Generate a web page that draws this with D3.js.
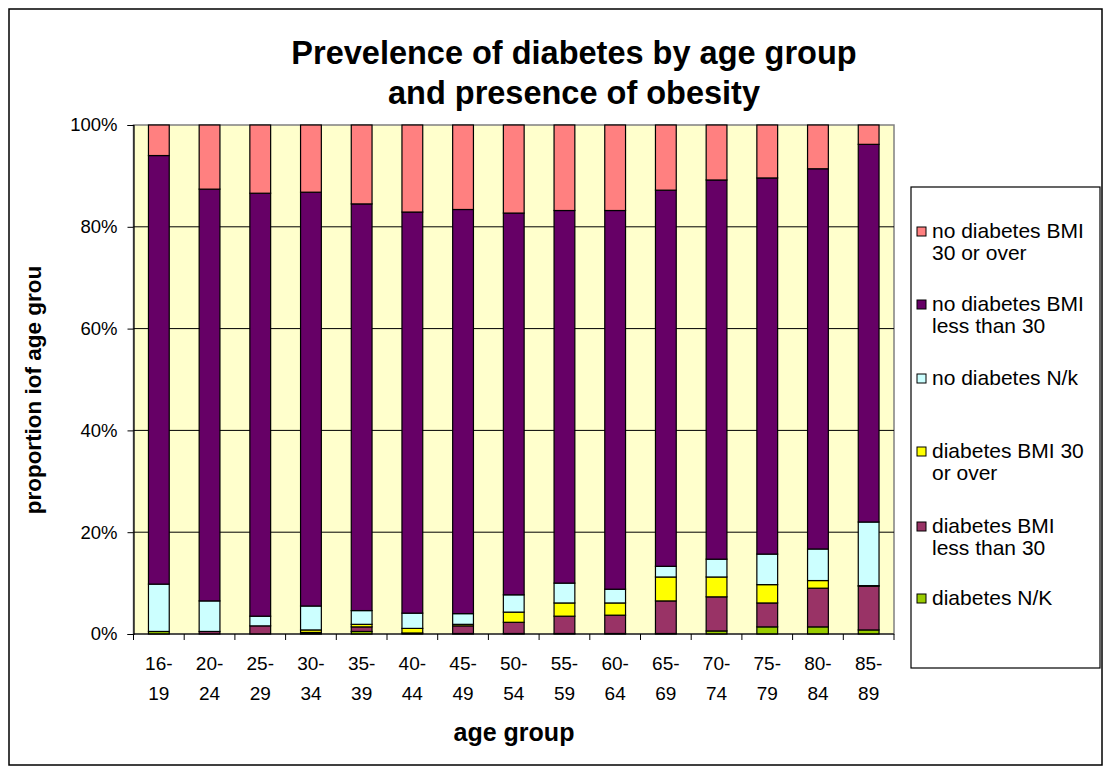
<!DOCTYPE html>
<html>
<head>
<meta charset="utf-8">
<script src="https://cdn.jsdelivr.net/npm/d3@7"></script>
<style>
  html, body { margin: 0; padding: 0; background: #fff; }
  svg { display: block; }
  text { font-family: Arial, "Liberation Sans", sans-serif; fill: #000; }
</style>
</head>
<body>
<svg id="chart" width="1106" height="770"></svg>
<script>
// Age groups (two-line tick labels)
const ageGroups = ["16-19","20-24","25-29","30-34","35-39","40-44","45-49","50-54",
                   "55-59","60-64","65-69","70-74","75-79","80-84","85-89"];

// Percent of each age group, stacked bottom to top
const diabetesNK        = [0.5, 0.0, 0.0, 0.1, 0.5, 0.0, 0.1, 0.1, 0.1, 0.1, 0.1, 0.6, 1.4, 1.4, 0.8];
const diabetesUnder30   = [0.0, 0.5, 1.6, 0.2, 0.9, 0.2, 1.5, 2.2, 3.4, 3.6, 6.4, 6.7, 4.7, 7.6, 8.6];
const diabetes30Plus    = [0.0, 0.0, 0.0, 0.5, 0.5, 0.9, 0.3, 2.0, 2.6, 2.4, 4.7, 3.9, 3.6, 1.5, 0.1];
const noDiabetesNK      = [9.3, 6.0, 1.9, 4.7, 2.7, 3.0, 2.1, 3.4, 3.9, 2.7, 2.1, 3.5, 6.0, 6.2, 12.5];
const noDiabetesUnder30 = [84.2, 80.9, 83.1, 81.3, 79.9, 78.8, 79.4, 75.0, 73.2, 74.4, 73.9, 74.5, 73.9, 74.7, 74.2];
const noDiabetes30Plus  = [6.0, 12.6, 13.4, 13.2, 15.5, 17.1, 16.6, 17.3, 16.8, 16.8, 12.8, 10.8, 10.4, 8.6, 3.8];

const seriesNames = ["diabetes N/K", "diabetes BMI less than 30", "diabetes BMI 30 or over",
                     "no diabetes N/k", "no diabetes BMI less than 30", "no diabetes BMI 30 or over"];
const seriesValues = [diabetesNK, diabetesUnder30, diabetes30Plus, noDiabetesNK, noDiabetesUnder30, noDiabetes30Plus];
const seriesColors = ["#99CC00", "#993366", "#FFFF00", "#CCFFFF", "#660066", "#FF8080"];
// Legend text, wrapped as in the legend box (top entry first)
const legendLines = [
  ["no diabetes BMI", "30 or over"],
  ["no diabetes BMI", "less than 30"],
  ["no diabetes N/k"],
  ["diabetes BMI 30", "or over"],
  ["diabetes BMI", "less than 30"],
  ["diabetes N/K"]
];
const yTicks = [0, 20, 40, 60, 80, 100];

const svg = d3.select("#chart");
const plot = { left: 133.5, right: 894, top: 125, bottom: 634 };

// Outer chart frame
svg.append("rect").attr("x", 9).attr("y", 9).attr("width", 1093).attr("height", 756)
  .attr("fill", "#fff").attr("stroke", "#000").attr("stroke-width", 1.5);

const x = d3.scaleBand().domain(ageGroups).range([plot.left, plot.right]).paddingInner(0.59).paddingOuter(0.295);
const y = d3.scaleLinear().domain([0, 100]).range([plot.bottom, plot.top]);

// Plot area background
svg.append("rect").attr("x", plot.left).attr("y", plot.top)
  .attr("width", plot.right - plot.left).attr("height", plot.bottom - plot.top)
  .attr("fill", "#FFFFCC").attr("stroke", "#808080").attr("stroke-width", 1.5);

// Gridlines
svg.append("g").selectAll("line").data(yTicks.filter(t => t > 0 && t < 100)).join("line")
  .attr("x1", plot.left).attr("x2", plot.right)
  .attr("y1", d => y(d)).attr("y2", d => y(d))
  .attr("stroke", "#000").attr("stroke-width", 1);

// Stacked bars
const rows = ageGroups.map((g, i) => {
  const r = { group: g };
  seriesNames.forEach((s, k) => { r[s] = seriesValues[k][i]; });
  return r;
});
const stack = d3.stack().keys(seriesNames)(rows);
svg.append("g").selectAll("g").data(stack).join("g")
  .attr("fill", (d, k) => seriesColors[k])
  .selectAll("rect").data(d => d).join("rect")
  .attr("x", d => x(d.data.group))
  .attr("width", x.bandwidth())
  .attr("y", d => y(d[1]))
  .attr("height", d => y(d[0]) - y(d[1]))
  .attr("stroke", "#000").attr("stroke-width", 1.2);

// Y axis
const yAxis = d3.axisLeft(y).tickValues(yTicks).tickFormat(d => d + "%").tickSize(6).tickPadding(10);
const gy = svg.append("g").attr("transform", `translate(${plot.left},0)`).call(yAxis);
gy.select(".domain").attr("stroke", "#000").attr("stroke-width", 1.2);
gy.selectAll(".tick line").attr("stroke", "#000");
gy.selectAll(".tick text").attr("font-size", 18.5).attr("font-family", "Arial, 'Liberation Sans', sans-serif");

// X axis: tick marks on category boundaries, labels split onto two lines
svg.append("line").attr("x1", plot.left).attr("x2", plot.right)
  .attr("y1", plot.bottom).attr("y2", plot.bottom).attr("stroke", "#000").attr("stroke-width", 1.2);
const step = x.step();
svg.append("g").selectAll("line").data(d3.range(ageGroups.length + 1)).join("line")
  .attr("x1", i => plot.left + i * step).attr("x2", i => plot.left + i * step)
  .attr("y1", plot.bottom).attr("y2", plot.bottom + 6).attr("stroke", "#000");
const xl = svg.append("g").selectAll("text").data(ageGroups).join("text")
  .attr("text-anchor", "middle").attr("font-size", 19)
  .attr("transform", d => `translate(${x(d) + x.bandwidth() / 2},0)`);
xl.append("tspan").attr("x", 0).attr("y", 670).text(d => d.split("-")[0] + "-");
xl.append("tspan").attr("x", 0).attr("y", 700).text(d => d.split("-")[1]);

// Titles
svg.append("text").attr("x", 574).attr("y", 64).attr("text-anchor", "middle")
  .attr("font-size", 32.5).attr("font-weight", "bold").text("Prevelence of diabetes by age group");
svg.append("text").attr("x", 574).attr("y", 104).attr("text-anchor", "middle")
  .attr("font-size", 32.5).attr("font-weight", "bold").text("and presence of obesity");
svg.append("text").attr("x", 514).attr("y", 741).attr("text-anchor", "middle")
  .attr("font-size", 25).attr("font-weight", "bold").text("age group");
svg.append("text").attr("transform", "translate(41,390) rotate(-90)").attr("text-anchor", "middle")
  .attr("font-size", 22.5).attr("font-weight", "bold").text("proportion iof age grou");

// Legend
const lg = svg.append("g");
lg.append("rect").attr("x", 911).attr("y", 187).attr("width", 189).attr("height", 481)
  .attr("fill", "#fff").attr("stroke", "#000").attr("stroke-width", 1.2);
const legendY = [231, 304, 378, 451, 526, 598];
const legendColors = seriesColors.slice().reverse();
legendLines.forEach((lines, i) => {
  lg.append("rect").attr("x", 917).attr("y", legendY[i] - 4).attr("width", 9).attr("height", 9)
    .attr("fill", legendColors[i]).attr("stroke", "#000").attr("stroke-width", 1);
  lines.forEach((t, j) => {
    lg.append("text").attr("x", 932).attr("y", legendY[i] + 7 + j * 22)
      .attr("font-size", 21).text(t);
  });
});
</script>
</body>
</html>
